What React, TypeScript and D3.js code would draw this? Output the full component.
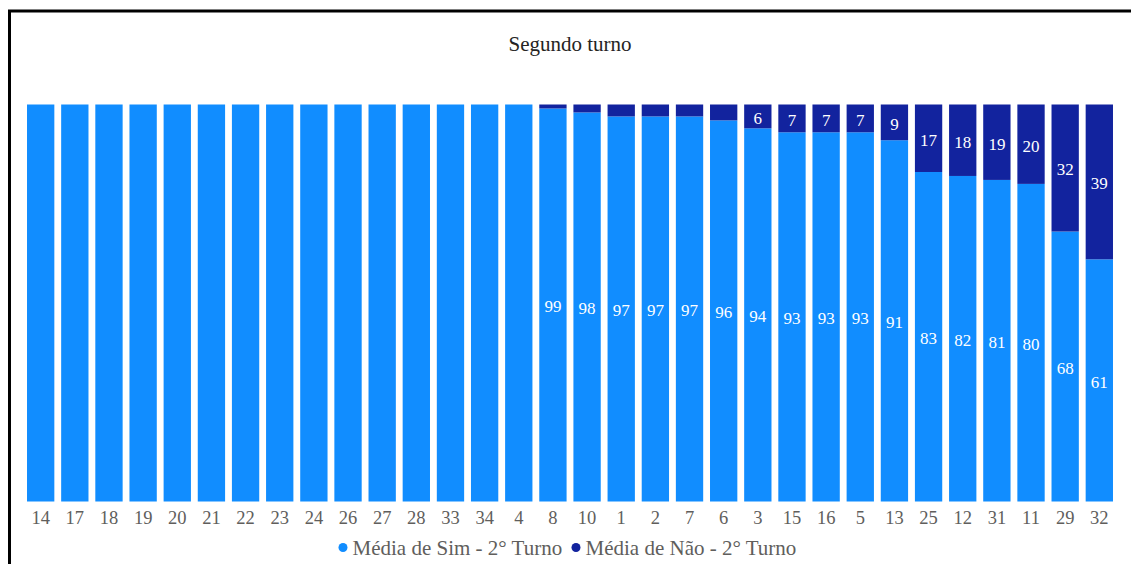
import React from "react";
import * as d3 from "d3";

// Zones ordered as shown on the axis
const categories: string[] = [
  "14", "17", "18", "19", "20", "21", "22", "23", "24", "26", "27", "28", "33", "34", "4",
  "8", "10", "1", "2", "7", "6", "3", "15", "16", "5", "13", "25", "12", "31", "11", "29", "32",
];

// Share of "Sim" answers (percent)
const simValues: number[] = [
  100, 100, 100, 100, 100, 100, 100, 100, 100, 100, 100, 100, 100, 100, 100,
  99, 98, 97, 97, 97, 96, 94, 93, 93, 93, 91, 83, 82, 81, 80, 68, 61,
];

// Share of "Não" answers (percent)
const naoValues: number[] = [
  0, 0, 0, 0, 0, 0, 0, 0, 0, 0, 0, 0, 0, 0, 0,
  1, 2, 3, 3, 3, 4, 6, 7, 7, 7, 9, 17, 18, 19, 20, 32, 39,
];

const seriesNames: string[] = ["Média de Sim - 2° Turno", "Média de Não - 2° Turno"];
const chartTitle = "Segundo turno";

const W = 1131;
const H = 564;
const SIM_COLOR = "#118DFF";
const NAO_COLOR = "#12239E";
const FONT = "'Liberation Serif', 'Times New Roman', Times, serif";
const LABEL_MIN = 5; // segments below this share get no data label

export default function App() {
  const x = d3
    .scaleBand<string>()
    .domain(categories)
    .range([23.6, 1116.4])
    .paddingInner(0.2)
    .paddingOuter(0.1);

  const y = d3.scaleLinear().domain([0, 100]).range([501.5, 104.5]);

  const rows = categories.map((c, i) => ({ cat: c, sim: simValues[i], nao: naoValues[i] }));
  const stacked = d3.stack<any>().keys(["sim", "nao"])(rows);
  const colors = [SIM_COLOR, NAO_COLOR];

  const legendX = [343, 576];

  return (
    <div style={{ position: "fixed", left: 0, top: 0 }}>
      <svg width={W} height={H} style={{ display: "block", background: "#fff" }}>
        <rect x={9.5} y={11} width={1200} height={600} fill="none" stroke="#000" strokeWidth={3} />

        <text x={570} y={50.5} textAnchor="middle" fontFamily={FONT} fontSize={21} fill="#252423">
          {chartTitle}
        </text>

        {stacked.map((layer, li) => (
          <g key={layer.key} fill={colors[li]}>
            {layer.map((d, i) => {
              const h = y(d[0]) - y(d[1]);
              if (h <= 0) return null;
              return (
                <rect
                  key={categories[i]}
                  x={x(categories[i])}
                  y={y(d[1])}
                  width={x.bandwidth()}
                  height={h}
                />
              );
            })}
          </g>
        ))}

        {stacked.map((layer) => (
          <g key={"lbl-" + layer.key}>
            {layer.map((d, i) => {
              const v = d[1] - d[0];
              if (v < LABEL_MIN || v >= 100) return null;
              const cy = (y(d[0]) + y(d[1])) / 2 + 1.5;
              return (
                <text
                  key={categories[i]}
                  x={(x(categories[i]) as number) + x.bandwidth() / 2}
                  y={cy + 5.8}
                  textAnchor="middle"
                  fontFamily={FONT}
                  fontSize={17}
                  fill="#fff"
                >
                  {v}
                </text>
              );
            })}
          </g>
        ))}

        {categories.map((c) => (
          <text
            key={"tick-" + c}
            x={(x(c) as number) + x.bandwidth() / 2}
            y={524}
            textAnchor="middle"
            fontFamily={FONT}
            fontSize={18.5}
            fill="#605E5C"
          >
            {c}
          </text>
        ))}

        {seriesNames.map((name, i) => (
          <g key={name}>
            <circle cx={legendX[i]} cy={547.5} r={4.5} fill={colors[i]} />
            <text x={legendX[i] + 9.5} y={554.5} fontFamily={FONT} fontSize={21} fill="#605E5C">
              {name}
            </text>
          </g>
        ))}
      </svg>
    </div>
  );
}
